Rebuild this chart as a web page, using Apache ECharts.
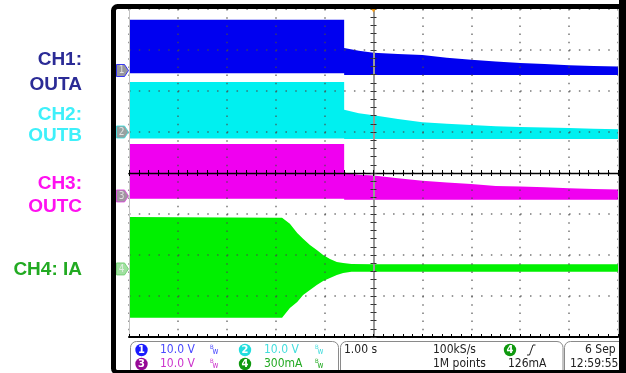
<!DOCTYPE html>
<html>
<head>
<meta charset="utf-8">
<script src="https://cdn.jsdelivr.net/npm/echarts@6/dist/echarts.min.js"></script>
<style>
html,body{margin:0;padding:0;background:#fff;}
#c{width:626px;height:373px;}
</style>
</head>
<body>
<div id="c"></div>
<script>
// ---- data (time in s, CH1-3 in V, CH4 in mA) ----
const ch1Time = [-5, -0.6, -0.6, -0.3, 0, 0.5, 1, 1.5, 2, 2.5, 3, 3.5, 4, 4.5, 5];
const ch1High = [12.4, 12.4, 5.5, 4.8, 4.3, 4.0, 3.8, 3.1, 2.6, 2.2, 1.8, 1.6, 1.3, 1.1, 1.0];
const ch1Low  = [-0.7, -0.7, -1.1, -1.1, -1.1, -1.1, -1.1, -1.1, -1.1, -1.1, -1.1, -1.1, -1.1, -1.1, -1.1];

const ch2Time = [-5, -0.6, -0.6, -0.3, 0, 0.5, 1, 1.5, 2, 2.5, 3, 3.5, 4, 4.5, 5];
const ch2High = [12.2, 12.2, 5.4, 4.6, 4.1, 3.2, 2.4, 2.0, 1.7, 1.4, 1.2, 1.1, 1.0, 0.8, 0.7];
const ch2Low  = [-1.6, -1.6, -1.7, -1.7, -1.7, -1.7, -1.7, -1.7, -1.7, -1.7, -1.7, -1.7, -1.7, -1.7, -1.7];

const ch3Time = [-5, -0.6, -0.6, -0.3, 0, 0.5, 1, 1.5, 2, 2.5, 3, 3.5, 4, 4.5, 5];
const ch3High = [12.7, 12.7, 5.6, 5.2, 5.0, 4.3, 3.7, 3.3, 2.9, 2.4, 2.3, 2.1, 1.9, 1.7, 1.6];
const ch3Low  = [-0.7, -0.7, -0.9, -0.9, -0.9, -0.9, -0.9, -0.9, -0.9, -0.9, -0.9, -0.9, -0.9, -0.9, -0.9];

const ch4Time = [-5, -1.87, -1.71, -1.56, -1.44, -1.30, -1.16, -1.03, -0.89, -0.75, -0.62, -0.45, 0, 5];
const ch4High = [380, 375, 330, 263, 220, 176, 139, 102, 73, 51, 44, 36, 34, 34];
const ch4Low  = [-358, -358, -285, -241, -190, -154, -117, -88, -66, -44, -29, -20, -20, -20];

const channelNames = ['CH1:', 'OUTA', 'CH2:', 'OUTB', 'CH3:', 'OUTC', 'CH4: IA'];
const scaleTexts = ['10.0 V', '10.0 V', '10.0 V', '300mA'];
const timebaseText = '1.00 s';
const sampleTexts = ['100kS/s', '1M points'];
const triggerTexts = ['126mA'];
const dateTexts = ['6 Sep 2', '12:59:55'];

// ---- layout / style ----
const chColors = ['#0000f0', '#00f0f0', '#f000f0', '#00f000'];
const chCfg = [
  {perDiv: 10, groundDiv: 2.5},
  {perDiv: 10, groundDiv: 1},
  {perDiv: 10, groundDiv: -0.56},
  {perDiv: 300, groundDiv: -2.34}
];
const chData = [
  [ch1Time, ch1Low, ch1High],
  [ch2Time, ch2Low, ch2High],
  [ch3Time, ch3Low, ch3High],
  [ch4Time, ch4Low, ch4High]
];

const chart = echarts.init(document.getElementById('c'), null, {renderer: 'canvas'});
const dotColor = '#4a4a4a';
const narrow = "'Liberation Sans Narrow','DejaVu Sans Condensed',sans-serif";

const xAxes = [
  { // main time axis, bottom edge
    type: 'value', min: -5, max: 5, interval: 1, position: 'bottom', z: 5,
    axisLine: {show: true, onZero: false, lineStyle: {color: '#000', width: 2}},
    axisTick: {show: true, inside: true, length: 3, lineStyle: {color: '#000'}},
    minorTick: {show: true, splitNumber: 5, length: 3, lineStyle: {color: '#000'}},
    axisLabel: {show: false},
    splitLine: {show: true, lineStyle: {color: dotColor, width: 1.5, type: [1.5, 6.7], opacity: 0.75}}
  },
  { // center horizontal line, ticks up
    type: 'value', min: -5, max: 5, interval: 1, position: 'bottom', z: 5,
    axisLine: {show: true, onZero: true, onZeroAxisIndex: 0, lineStyle: {color: '#000', width: 1.3}},
    axisTick: {show: true, inside: true, length: 3, lineStyle: {color: '#000'}},
    minorTick: {show: true, splitNumber: 5, length: 3, lineStyle: {color: '#000'}},
    axisLabel: {show: false}, splitLine: {show: false}
  },
  { // center horizontal line, ticks down
    type: 'value', min: -5, max: 5, interval: 1, position: 'top', z: 5,
    axisLine: {show: false, onZero: true, onZeroAxisIndex: 0},
    axisTick: {show: true, inside: true, length: 3, lineStyle: {color: '#000'}},
    minorTick: {show: true, splitNumber: 5, length: 3, lineStyle: {color: '#000'}},
    axisLabel: {show: false}, splitLine: {show: false}
  }
];

const yAxes = [
  { // main div axis, left edge
    type: 'value', min: -4, max: 4, interval: 1, position: 'left', z: 5,
    axisLine: {show: true, onZero: false, lineStyle: {color: '#c4c4c4', width: 1}},
    axisTick: {show: false}, axisLabel: {show: false},
    splitLine: {show: true, lineStyle: {color: dotColor, width: 1.5, type: [1.5, 8.28], opacity: 0.75}}
  },
  { // center vertical line, ticks right
    type: 'value', min: -4, max: 4, interval: 1, position: 'left', z: 5,
    axisLine: {show: true, onZero: true, onZeroAxisIndex: 0, lineStyle: {color: '#9a9a9a', width: 2}},
    axisTick: {show: true, inside: true, length: 3, lineStyle: {color: '#333'}},
    minorTick: {show: true, splitNumber: 5, length: 3, lineStyle: {color: '#333'}},
    axisLabel: {show: false}, splitLine: {show: false}
  },
  { // center vertical line, ticks left
    type: 'value', min: -4, max: 4, interval: 1, position: 'right', z: 5,
    axisLine: {show: false, onZero: true, onZeroAxisIndex: 0},
    axisTick: {show: true, inside: true, length: 3, lineStyle: {color: '#333'}},
    minorTick: {show: true, splitNumber: 5, length: 3, lineStyle: {color: '#333'}},
    axisLabel: {show: false}, splitLine: {show: false}
  },
  { // right edge
    type: 'value', min: -4, max: 4, interval: 1, position: 'right', z: 5,
    axisLine: {show: true, onZero: false, lineStyle: {color: '#c4c4c4', width: 1}},
    axisTick: {show: false}, axisLabel: {show: false}, splitLine: {show: false}
  }
];
chCfg.forEach(function (c) {
  yAxes.push({
    type: 'value', show: false, position: 'left',
    min: (-4 - c.groundDiv) * c.perDiv, max: (4 - c.groundDiv) * c.perDiv,
    axisLine: {onZero: false}
  });
});

const series = [];
chData.forEach(function (d, k) {
  const times = d[0], lows = d[1], highs = d[2];
  series.push({
    type: 'custom', xAxisIndex: 0, yAxisIndex: 4 + k, z: 2, silent: true, clip: true,
    data: times.map(function (t, i) { return [t, lows[i], highs[i]]; }),
    encode: {x: 0, y: [1, 2]},
    renderItem: function (params, api) {
      if (params.dataIndex !== 0) return null;
      const pts = [];
      for (let i = 0; i < times.length; i++) pts.push(api.coord([times[i], highs[i]]));
      for (let i = times.length - 1; i >= 0; i--) pts.push(api.coord([times[i], lows[i]]));
      return {type: 'polygon', shape: {points: pts}, style: {fill: chColors[k]}};
    }
  });
});

// channel ground markers
const markerFill = ['#7c7c84', '#7c8a8a', '#8a7a8a', '#88d888'];
const markerBorder = ['#1010ff', '#33e0e0', '#e040e0', '#66cc66'];
chCfg.forEach(function (c, k) {
  series.push({
    type: 'scatter', xAxisIndex: 0, yAxisIndex: 4 + k, z: 6, silent: true, clip: false,
    data: [[-5, 0]],
    symbol: 'path://M0,0 L8,0 L12,6 L8,12 L0,12 Z',
    symbolSize: [12, 12], symbolOffset: [-6.5, 0],
    itemStyle: {color: markerFill[k], borderColor: markerBorder[k], borderWidth: 1},
    label: {show: true, position: 'inside', formatter: String(k + 1), color: '#f2f2f2',
            fontSize: 10, fontFamily: narrow, offset: [-1, 0]}
  });
});

// trigger position marker
series.push({
  type: 'scatter', xAxisIndex: 0, yAxisIndex: 0, z: 6, silent: true, clip: false,
  data: [[0, 4]], symbol: 'triangle', symbolRotate: 180, symbolSize: [7, 5],
  symbolOffset: [0, 1], itemStyle: {color: '#ff9a00'}
});

// ---- graphic: labels, frame, status bar ----
const g = [];
const labelFont = "bold 19px 'Liberation Sans',Arial,sans-serif";
const labelDefs = [
  [channelNames[0], 60, '#2b2b96'], [channelNames[1], 85, '#2b2b96'],
  [channelNames[2], 115, '#3ef0fa'], [channelNames[3], 136, '#3ef0fa'],
  [channelNames[4], 184, '#ff10f0'], [channelNames[5], 207, '#ff10f0'],
  [channelNames[6], 270, '#22aa22']
];
labelDefs.forEach(function (l) {
  g.push({type: 'text', z: 10, style: {text: l[0], x: 82, y: l[1], align: 'right', verticalAlign: 'middle', font: labelFont, fill: l[2]}});
});

// frame
g.push({type: 'rect', z: 20, shape: {x: 113.5, y: 6.5, width: 509.5, height: 366, r: 4},
        style: {fill: null, stroke: '#000', lineWidth: 5}});
g.push({type: 'rect', z: 20, shape: {x: 619, y: 0, width: 7, height: 373}, style: {fill: '#000'}});

// status boxes
[[130.5, 208], [340.5, 222.5], [564.5, 70]].forEach(function (b) {
  g.push({type: 'rect', z: 10, shape: {x: b[0], y: 341.5, width: b[1], height: 40, r: 6},
          style: {fill: null, stroke: '#8a8a8a', lineWidth: 1}});
});

const smallFont = "12px " + narrow;
function txt(s, x, y, fill, align) {
  g.push({type: 'text', z: 11, style: {text: s, x: x, y: y, align: align || 'left', verticalAlign: 'middle', font: smallFont, fill: fill}});
}
function badge(n, cx, cy, fill) {
  g.push({type: 'circle', z: 11, shape: {cx: cx, cy: cy, r: 6.2}, style: {fill: fill}});
  g.push({type: 'text', z: 12, style: {text: n, x: cx, y: cy + 0.5, align: 'center', verticalAlign: 'middle', font: "bold 11px " + narrow, fill: '#fff'}});
}
function bw(x, y, fill) {
  g.push({type: 'text', z: 11, style: {text: 'B', x: x, y: y - 3, align: 'left', verticalAlign: 'middle', font: "6px " + narrow, fill: fill}});
  g.push({type: 'text', z: 11, style: {text: 'w', x: x + 2.5, y: y + 1.5, align: 'left', verticalAlign: 'middle', font: "8px " + narrow, fill: fill}});
}
const rowA = 350, rowB = 364;
badge('1', 141.5, rowA, '#1a1aff');
txt(scaleTexts[0], 160, rowA, '#4a4aff');
bw(210, rowA, '#4a4aff');
badge('2', 245, rowA, '#22dede');
txt(scaleTexts[1], 264, rowA, '#44dddd');
bw(315, rowA, '#44dddd');
badge('3', 141.5, rowB, '#960896');
txt(scaleTexts[2], 160, rowB, '#cc33cc');
bw(210, rowB, '#cc33cc');
badge('4', 245, rowB, '#0f990f');
txt(scaleTexts[3], 264, rowB, '#22aa22');
bw(315, rowB, '#22aa22');

txt(timebaseText, 344, rowA, '#222');
txt(sampleTexts[0], 433, rowA, '#222');
txt(sampleTexts[1], 433, rowB, '#222');
badge('4', 510, rowA, '#0f990f');
g.push({type: 'polyline', z: 11, shape: {points: [[527, 355], [529.5, 355], [533, 345], [535.5, 345]]},
        style: {stroke: '#222', lineWidth: 1, fill: null}});
txt(triggerTexts[0], 508, rowB, '#222');
txt(dateTexts[0], 585, rowA, '#222');
txt(dateTexts[1], 570, rowB, '#222');

chart.setOption({
  animation: false,
  backgroundColor: '#fff',
  grid: {left: 129, right: 8, top: 9, bottom: 36, containLabel: false},
  xAxis: xAxes,
  yAxis: yAxes,
  series: series,
  graphic: g
});
</script>
</body>
</html>
